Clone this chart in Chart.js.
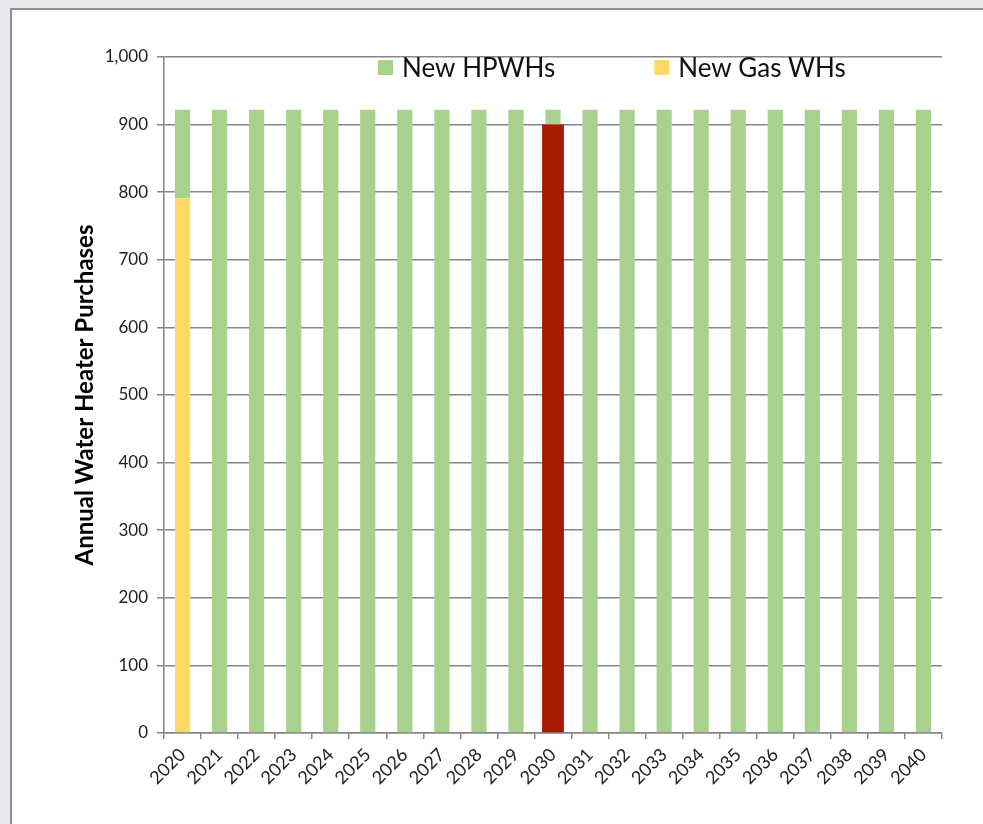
<!DOCTYPE html>
<html>
<head>
<meta charset="utf-8">
<script src="https://cdn.jsdelivr.net/npm/chart.js@4/dist/chart.umd.min.js"></script>
<style>
  html, body { margin: 0; padding: 0; }
  body { width: 983px; height: 824px; background: #e6e8eb; overflow: hidden; position: relative; }
  .panel {
    position: absolute; left: 10px; top: 8px; width: 1000px; height: 840px;
    background: #fff; border: 2px solid #8e8e8e; box-sizing: border-box;
  }
  .wrap { position: absolute; left: 0; top: 0; width: 983px; height: 824px; }
</style>
</head>
<body>
<div class="panel"></div>
<div class="wrap"><canvas id="purchasesChart"></canvas></div>
<script>
// ── DATA ──
const YEARS = ['2020','2021','2022','2023','2024','2025','2026','2027','2028','2029','2030',
               '2031','2032','2033','2034','2035','2036','2037','2038','2039','2040'];
const NEW_GAS   = [791, 0, 0, 0, 0, 0, 0, 0, 0, 0, 0, 0, 0, 0, 0, 0, 0, 0, 0, 0, 0];
const HIGHLIGHT = [null, null, null, null, null, null, null, null, null, null, 900,
                   null, null, null, null, null, null, null, null, null, null];
const NEW_HPWH  = [131, 922, 922, 922, 922, 922, 922, 922, 922, 922, 22,
                   922, 922, 922, 922, 922, 922, 922, 922, 922, 922];
const Y_MAX = 1000;
const Y_STEP = 100;

const COLORS = {
  green:  '#a9d18e',
  yellow: '#ffd966',
  red:    '#a91b00',
  grid:   '#868686',
  text:   '#222222',
};

// legend drawn inside the plot area, like the original
const insideLegend = {
  id: 'insideLegend',
  afterDraw(chart, args, opts) {
    const ctx = chart.ctx;
    const items = opts.items;
    let x = opts.x;
    ctx.save();
    ctx.font = opts.font;
    ctx.textBaseline = 'alphabetic';
    ctx.textAlign = 'left';
    items.forEach(idx => {
      const ds = chart.data.datasets[idx];
      ctx.fillStyle = ds.backgroundColor;
      ctx.fillRect(x, opts.y + 3, 15, 15);
      ctx.fillStyle = '#111';
      ctx.fillText(ds.label, x + 24, opts.y + 20);
      x += 24 + ctx.measureText(ds.label).width + opts.gap;
    });
    ctx.restore();
  }
};

new Chart(document.getElementById('purchasesChart'), {
  type: 'bar',
  data: {
    labels: YEARS,
    datasets: [
      { label: 'New Gas WHs', data: NEW_GAS, backgroundColor: COLORS.yellow,
        barPercentage: 0.41, categoryPercentage: 1 },
      { label: '2030', data: HIGHLIGHT, backgroundColor: COLORS.red,
        barPercentage: 0.59, categoryPercentage: 1 },
      { label: 'New HPWHs', data: NEW_HPWH, backgroundColor: COLORS.green,
        barPercentage: 0.41, categoryPercentage: 1 },
    ]
  },
  options: {
    responsive: true,
    maintainAspectRatio: false,
    animation: false,
    layout: { padding: { left: 71, top: 57, right: 41, bottom: 20 } },
    plugins: {
      legend: { display: false },
      tooltip: { enabled: false },
      insideLegend: { items: [2, 0], x: 378, y: 57, gap: 99, font: '26px Lato' },
    },
    scales: {
      x: {
        stacked: true,
        afterFit: s => { s.height = 71; },
        grid: { drawOnChartArea: false, drawTicks: true, tickLength: 6, color: COLORS.grid, lineWidth: 1.5 },
        border: { color: COLORS.grid, width: 1.5 },
        ticks: {
          color: COLORS.text, font: { family: 'Lato', size: 18 },
          minRotation: 45, maxRotation: 45, padding: 5, autoSkip: false,
        }
      },
      y: {
        stacked: true,
        min: 0, max: Y_MAX,
        afterFit: s => { s.width = 93; },
        grid: { color: COLORS.grid, lineWidth: 1.5, tickLength: 7 },
        border: { color: COLORS.grid, width: 1.5 },
        ticks: {
          stepSize: Y_STEP, padding: 9, color: COLORS.text,
          font: { family: 'Lato', size: 17 },
          callback: v => v.toLocaleString('en-US'),
        },
        title: {
          display: true, text: 'Annual Water Heater Purchases',
          color: '#000', padding: { top: 0, bottom: 0 },
          font: { family: 'Lato', size: 24, weight: 'bold' },
        }
      }
    }
  },
  plugins: [insideLegend]
});
</script>
</body>
</html>
